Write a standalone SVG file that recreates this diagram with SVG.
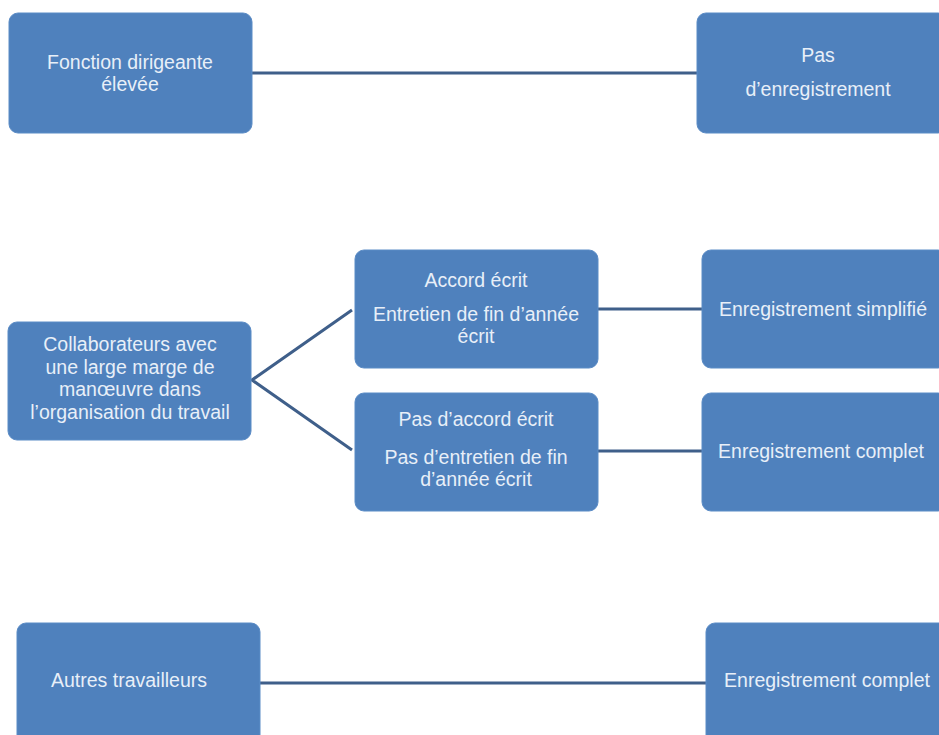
<svg xmlns="http://www.w3.org/2000/svg" width="939" height="735" viewBox="0 0 939 735">
<style>
.box{fill:#4f81bd;stroke:#5b8cc6;stroke-width:1}
.t{font-family:"Liberation Sans",Arial,sans-serif;font-size:19.5px;fill:#e8eff8;text-anchor:middle}
.c{stroke:#3f5f8a;stroke-width:3;fill:none}
</style>
<rect width="939" height="735" fill="#ffffff"/>
<g id="connectors">
<line class="c" x1="252" y1="73" x2="697" y2="73"/>
<polyline class="c" points="352,310 252,380 352,450"/>
<line class="c" x1="598" y1="309" x2="702" y2="309"/>
<line class="c" x1="598" y1="451" x2="702" y2="451"/>
<line class="c" x1="260" y1="683" x2="706" y2="683"/>
</g>
<g id="n1"><rect class="box" x="9" y="13" width="243" height="120" rx="9"/>
<text class="t" x="130" y="69">Fonction dirigeante</text><text class="t" x="130" y="91">élevée</text></g>
<g id="n2"><rect class="box" x="697" y="13" width="250" height="120" rx="9"/>
<text class="t" x="818" y="62">Pas</text><text class="t" x="818" y="96">d’enregistrement</text></g>
<g id="n3"><rect class="box" x="8" y="322" width="243" height="118" rx="9"/>
<text class="t" x="130" y="351">Collaborateurs avec</text><text class="t" x="130" y="374">une large marge de</text><text class="t" x="130" y="396">manœuvre dans</text><text class="t" x="130" y="419">l’organisation du travail</text></g>
<g id="n4"><rect class="box" x="355" y="250" width="243" height="118" rx="9"/>
<text class="t" x="476" y="287">Accord écrit</text><text class="t" x="476" y="321">Entretien de fin d’année</text><text class="t" x="476" y="343">écrit</text></g>
<g id="n5"><rect class="box" x="355" y="393" width="243" height="118" rx="9"/>
<text class="t" x="476" y="426">Pas d’accord écrit</text><text class="t" x="476" y="464">Pas d’entretien de fin</text><text class="t" x="476" y="486">d’année écrit</text></g>
<g id="n6"><rect class="box" x="702" y="250" width="245" height="118" rx="9"/>
<text class="t" x="823" y="316">Enregistrement simplifié</text></g>
<g id="n7"><rect class="box" x="702" y="393" width="245" height="118" rx="9"/>
<text class="t" x="821" y="458">Enregistrement complet</text></g>
<g id="n8"><rect class="box" x="17" y="623" width="243" height="125" rx="9"/>
<text class="t" x="129" y="687">Autres travailleurs</text></g>
<g id="n9"><rect class="box" x="706" y="623" width="245" height="125" rx="9"/>
<text class="t" x="827" y="687">Enregistrement complet</text></g>
</svg>
